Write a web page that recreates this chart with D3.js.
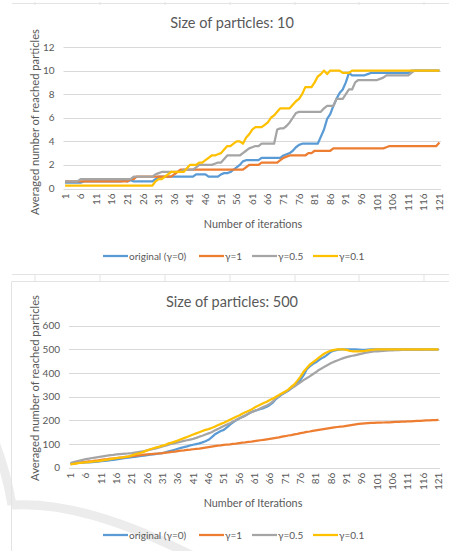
<!DOCTYPE html>
<html>
<head>
<meta charset="utf-8">
<script src="https://cdn.jsdelivr.net/npm/d3@7"></script>
<style>
  body { margin: 0; background: #fff; }
  svg text { font-family: Lato, "Open Sans", sans-serif; fill: #595959; }
</style>
</head>
<body>
<div id="chart"></div>
<script>
// categories: iteration number 1..121
const iterations = d3.range(1, 122);
const xTickLabels = [1, 6, 11, 16, 21, 26, 31, 36, 41, 46, 51, 56, 61, 66, 71, 76, 81, 86, 91, 96, 101, 106, 111, 116, 121];
const seriesNames = ["original (γ=0)", "γ=1", "γ=0.5", "γ=0.1"];
const seriesColors = ["#5b9bd5", "#ed7d31", "#a5a5a5", "#ffc000"];

// size of particles: 10
const p10Ticks = [0, 2, 4, 6, 8, 10, 12];
const p10Original = [
  0.5,0.5,0.5,0.5,0.5,0.5,0.6,0.6,0.6,0.6,
  0.6,0.6,0.6,0.6,0.6,0.6,0.6,0.6,0.6,0.7,
  0.6,0.7,0.6,0.6,0.6,0.6,0.6,0.6,0.6,0.8,
  1.0,1.0,1.0,1.0,1.0,1.0,1.0,1.0,1.0,1.0,
  1.0,1.0,1.2,1.2,1.2,1.2,1.0,1.0,1.0,1.0,
  1.2,1.3,1.3,1.4,1.6,1.8,2.0,2.3,2.4,2.4,
  2.4,2.4,2.4,2.6,2.6,2.6,2.6,2.6,2.6,2.6,
  2.8,2.9,3.0,3.2,3.5,3.7,3.8,3.8,3.8,3.8,
  3.8,3.8,4.4,5.0,5.9,6.3,7.0,7.6,8.1,8.4,
  9.0,9.8,9.6,9.6,9.6,9.6,9.6,9.7,9.8,9.8,
  9.8,9.8,9.8,9.8,9.8,9.8,9.8,9.8,9.8,9.8,
  9.8,10,10,10,10,10,10,10,10,10,
  10
];
const p10Gamma1 = [
  0.6,0.6,0.6,0.6,0.6,0.6,0.6,0.6,0.6,0.6,
  0.6,0.6,0.6,0.6,0.6,0.6,0.6,0.6,0.6,0.6,
  0.6,0.8,0.8,1.0,1.0,1.0,1.0,1.0,1.0,1.0,
  1.0,1.0,1.0,1.0,1.0,1.2,1.4,1.6,1.6,1.6,
  1.6,1.6,1.6,1.6,1.6,1.6,1.6,1.6,1.6,1.6,
  1.6,1.6,1.6,1.6,1.6,1.6,1.6,1.6,1.8,2.0,
  2.0,2.0,2.0,2.2,2.2,2.2,2.2,2.2,2.2,2.4,
  2.6,2.7,2.8,2.8,2.8,2.8,2.8,2.8,3.0,3.0,
  3.2,3.2,3.2,3.2,3.2,3.2,3.4,3.4,3.4,3.4,
  3.4,3.4,3.4,3.4,3.4,3.4,3.4,3.4,3.4,3.4,
  3.4,3.4,3.4,3.5,3.6,3.6,3.6,3.6,3.6,3.6,
  3.6,3.6,3.6,3.6,3.6,3.6,3.6,3.6,3.6,3.6,
  3.9
];
const p10Gamma05 = [
  0.6,0.6,0.6,0.6,0.6,0.8,0.8,0.8,0.8,0.8,
  0.8,0.8,0.8,0.8,0.8,0.8,0.8,0.8,0.8,0.8,
  0.8,0.8,1.0,1.0,1.0,1.0,1.0,1.0,1.0,1.2,
  1.3,1.4,1.4,1.4,1.4,1.4,1.4,1.4,1.6,1.6,
  1.6,1.6,1.8,2.0,2.0,2.0,2.0,2.0,2.1,2.2,
  2.2,2.5,2.8,2.8,2.8,2.8,2.8,3.0,3.2,3.4,
  3.5,3.6,3.6,3.8,3.8,3.8,3.8,3.8,5.0,5.1,
  5.1,5.3,5.6,6.0,6.4,6.5,6.5,6.5,6.5,6.5,
  6.5,6.5,6.5,6.8,7.0,7.0,7.0,7.6,7.6,7.6,
  8.0,8.4,8.4,9.0,9.2,9.2,9.2,9.2,9.2,9.2,
  9.2,9.3,9.4,9.6,9.6,9.6,9.6,9.6,9.6,9.6,
  9.6,9.8,10,10,10,10,10,10,10,10,
  10
];
const p10Gamma01 = [
  0.25,0.25,0.25,0.25,0.25,0.25,0.25,0.25,0.25,0.25,
  0.25,0.25,0.25,0.25,0.25,0.25,0.25,0.25,0.25,0.25,
  0.25,0.25,0.25,0.25,0.25,0.25,0.25,0.25,0.25,0.6,
  0.8,0.8,1.0,1.2,1.4,1.4,1.4,1.4,1.4,1.7,
  2.0,2.0,2.0,2.2,2.2,2.4,2.6,2.8,2.8,2.9,
  3.0,3.3,3.6,3.6,3.8,4.0,4.0,3.8,4.3,4.6,
  5.0,5.2,5.2,5.2,5.4,5.6,6.0,6.2,6.5,6.8,
  6.8,6.8,6.8,7.1,7.4,7.6,8.0,8.6,8.6,8.6,
  9.0,9.5,9.7,10,9.7,10,10,10,10,9.8,
  9.8,9.8,10,10,10,10,10,10,10,10,
  10,10,10,10,10,10,10,10,10,10,
  10,10,10,10,10,10,10,10,10,10,
  10
];

// size of particles: 500
const p500Ticks = [0, 100, 200, 300, 400, 500, 600];
const p500Original = [
  18,19,20,21,21,22,23,24,25,26,
  28,29,30,32,33,35,37,39,41,43,
  45,46,48,50,51,53,55,56,58,60,
  62,65,69,72,76,80,84,87,90,94,
  97,100,103,107,112,118,128,140,148,155,
  160,170,182,192,200,208,214,220,228,235,
  240,244,248,252,258,265,275,290,300,310,
  318,325,335,348,360,372,390,415,428,438,
  445,455,463,470,480,490,495,498,500,500,
  500,500,500,500,499,498,498,499,500,500,
  500,500,500,500,500,500,500,500,500,500,
  500,500,500,500,500,500,500,500,500,500,
  500
];
const p500Gamma1 = [
  15,17,19,21,23,25,27,28,30,31,
  33,35,36,38,39,41,43,44,46,47,
  49,50,52,53,55,56,57,58,59,61,
  62,64,65,67,68,70,72,73,75,76,
  78,80,81,83,85,87,89,91,93,94,
  96,98,99,101,102,104,106,107,109,110,
  112,114,116,118,120,122,124,126,128,131,
  133,136,138,141,143,146,148,151,153,156,
  158,160,162,164,166,168,170,172,174,175,
  177,179,181,183,185,186,187,188,189,189,
  190,190,191,192,192,193,194,194,195,195,
  196,196,197,198,198,199,200,200,201,201,
  202
];
const p500Gamma05 = [
  20,24,27,30,33,36,38,41,43,45,
  47,49,51,53,54,56,57,58,59,61,
  62,64,66,68,70,73,76,79,82,86,
  90,93,97,101,104,107,110,113,116,119,
  122,126,131,135,140,145,150,157,163,170,
  176,182,188,195,202,208,214,221,228,235,
  240,245,251,257,263,270,280,293,303,311,
  318,327,335,343,352,361,370,378,386,395,
  403,413,420,428,435,442,448,453,458,463,
  467,470,473,476,479,482,485,487,489,491,
  492,493,494,495,496,496,497,497,498,498,
  498,498,498,498,498,498,499,499,499,499,
  499
];
const p500Gamma01 = [
  14,16,18,20,21,23,24,26,27,28,
  30,32,34,36,38,40,42,44,46,48,
  52,56,60,63,68,73,78,82,86,89,
  93,97,103,106,110,115,120,125,130,135,
  140,145,150,155,160,163,168,173,179,185,
  190,196,203,209,215,221,228,234,240,246,
  254,261,267,273,279,286,292,300,307,315,
  322,330,342,352,368,385,405,420,435,445,
  455,465,475,484,490,495,498,500,500,500,
  498,494,492,492,492,493,494,496,498,499,
  500,500,500,500,500,500,500,500,500,500,
  500,500,500,500,500,500,500,500,500,500,
  500
];

const W = 449, H = 551;
const svg = d3.select("#chart").append("svg")
    .attr("width", W)
    .attr("height", H);

// faint background arc (page watermark)
svg.append("path")
    .attr("d", "M-6,440 Q6,470 12,505 M12,505 Q90,500 210,565")
    .attr("fill", "none")
    .attr("stroke", "#ececec")
    .attr("stroke-width", 9);

// page frame lines with little tick marks
const frameTicks = [35, 100, 165, 230, 295, 359, 424];
svg.append("line").attr("x1", 12).attr("x2", W).attr("y1", 3.5).attr("y2", 3.5)
    .attr("stroke", "#e3e3e3");
svg.selectAll(".ft1").data(frameTicks).enter().append("line")
    .attr("x1", d => d).attr("x2", d => d).attr("y1", 2).attr("y2", 5)
    .attr("stroke", "#e3e3e3");
svg.append("line").attr("x1", 12).attr("x2", W).attr("y1", 274.5).attr("y2", 274.5)
    .attr("stroke", "#e3e3e3");
svg.append("line").attr("x1", 12).attr("x2", W).attr("y1", 281.5).attr("y2", 281.5)
    .attr("stroke", "#e3e3e3");
svg.selectAll(".ft2").data(frameTicks).enter().append("line")
    .attr("x1", d => d).attr("x2", d => d).attr("y1", 274.5).attr("y2", 281.5)
    .attr("stroke", "#e3e3e3");
svg.append("line").attr("x1", 11.5).attr("x2", 11.5).attr("y1", 281.5).attr("y2", H)
    .attr("stroke", "#e3e3e3");

function drawChart(cfg) {
  const g = svg.append("g");

  const x = d3.scaleBand()
    .domain(iterations)
    .range([cfg.left, cfg.right]);
  const xc = d => x(d) + x.bandwidth() / 2;

  const y = d3.scaleLinear()
    .domain([0, d3.max(cfg.ticks)])
    .range([cfg.bottom, cfg.top]);

  // gridlines + y tick labels
  g.selectAll(".grid").data(cfg.ticks).enter().append("line")
    .attr("x1", cfg.left).attr("x2", cfg.right)
    .attr("y1", d => Math.round(y(d)) + 0.5).attr("y2", d => Math.round(y(d)) + 0.5)
    .attr("stroke", "#d9d9d9");
  g.selectAll(".ylab").data(cfg.ticks).enter().append("text")
    .attr("x", cfg.left - 9)
    .attr("y", d => y(d))
    .attr("dy", "0.35em")
    .attr("text-anchor", "end")
    .style("font-size", "10px")
    .text(d => d);

  // x tick labels, rotated
  g.selectAll(".xlab").data(xTickLabels).enter().append("text")
    .attr("transform", d => `translate(${xc(d)},${cfg.bottom + 5}) rotate(-90)`)
    .attr("dy", "0.35em")
    .attr("text-anchor", "end")
    .style("font-size", "10px")
    .text(d => d);

  // series lines
  const line = d3.line()
    .x((d, i) => xc(iterations[i]))
    .y(d => y(d));
  cfg.series.forEach((s, k) => {
    g.append("path")
      .datum(s)
      .attr("fill", "none")
      .attr("stroke", seriesColors[k])
      .attr("stroke-width", 2.25)
      .attr("stroke-linejoin", "round")
      .attr("d", line);
  });

  // titles
  g.append("text")
    .attr("x", 232).attr("y", cfg.titleY)
    .attr("text-anchor", "middle")
    .style("font-size", "14.5px")
    .text(cfg.title);
  g.append("text")
    .attr("x", 253).attr("y", cfg.xTitleY)
    .attr("text-anchor", "middle")
    .attr("dy", "0.35em")
    .style("font-size", "10.8px")
    .text(cfg.xTitle);
  g.append("text")
    .attr("transform", `translate(35,${cfg.yTitleMid}) rotate(-90)`)
    .attr("text-anchor", "middle")
    .attr("dy", "0.35em")
    .style("font-size", "11.2px")
    .text("Averaged number of reached particles");

  // legend
  const legendX = [103, 199, 252, 313];
  const lg = g.selectAll(".leg").data(seriesNames).enter().append("g")
    .attr("transform", (d, i) => `translate(${legendX[i]},${cfg.legendY})`);
  lg.append("line")
    .attr("x1", 0).attr("x2", 25)
    .attr("stroke", (d, i) => seriesColors[i])
    .attr("stroke-width", 2.25);
  lg.append("text")
    .attr("x", 26)
    .attr("dy", "0.35em")
    .style("font-size", "10px")
    .text(d => d);
}

drawChart({
  title: "Size of particles: 10",
  xTitle: "Number of iterations",
  ticks: p10Ticks,
  series: [p10Original, p10Gamma1, p10Gamma05, p10Gamma01],
  left: 63.5, right: 441, top: 47, bottom: 188.5,
  titleY: 28, xTitleY: 224, yTitleMid: 122, legendY: 256
});

drawChart({
  title: "Size of particles: 500",
  xTitle: "Number of Iterations",
  ticks: p500Ticks,
  series: [p500Original, p500Gamma1, p500Gamma05, p500Gamma01],
  left: 69, right: 440, top: 325.7, bottom: 467.7,
  titleY: 307, xTitleY: 503, yTitleMid: 388, legendY: 535
});
</script>
</body>
</html>
